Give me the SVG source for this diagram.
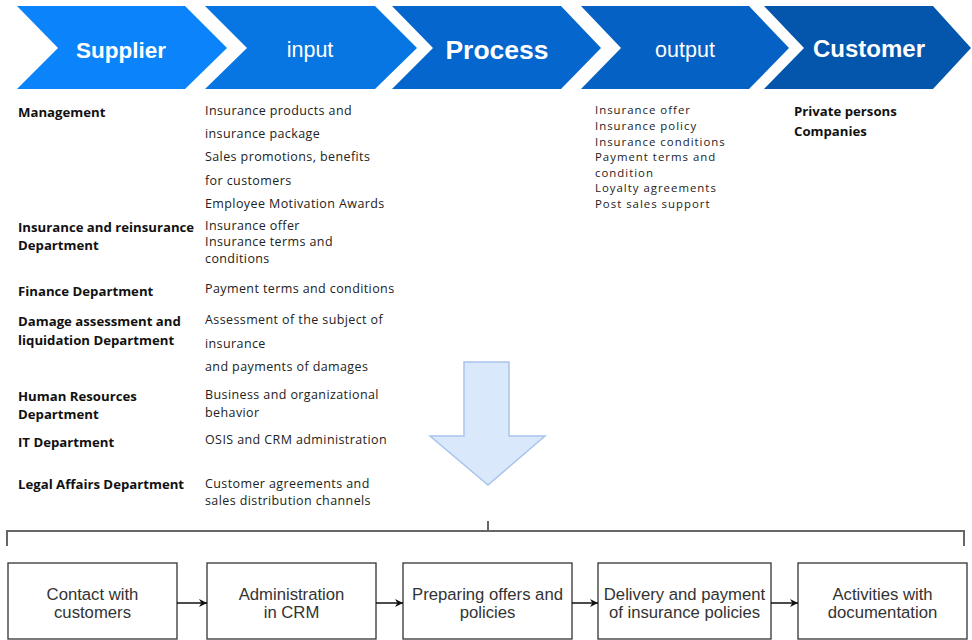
<svg xmlns="http://www.w3.org/2000/svg" width="972" height="640" viewBox="0 0 972 640">
<defs>
<style>
.chev-t{font-family:"Liberation Sans",Arial,sans-serif;fill:#ffffff;text-anchor:middle}
.b{font-family:"Open Sans","Liberation Sans",sans-serif;font-weight:bold;font-size:13.2px;fill:#111}
.r{font-family:"Open Sans","Liberation Sans",sans-serif;font-size:12.5px;letter-spacing:0.4px;fill:#222}
.o{font-family:"Open Sans","Liberation Sans",sans-serif;font-size:11.4px;letter-spacing:1px;fill:#222}
.box{fill:#ffffff;stroke:#333;stroke-width:1.3}
.bt{font-family:"Liberation Sans",Arial,sans-serif;font-size:16.7px;fill:#333;text-anchor:middle}
.con{stroke:#111;stroke-width:1.5;fill:none}
.br{stroke:#666;stroke-width:2;fill:none}
</style>
<marker id="ah" viewBox="0 0 10 10" refX="10" refY="5" markerWidth="8" markerHeight="8" markerUnits="userSpaceOnUse" orient="auto">
<path d="M0,0 L10,5 L0,10 L3,5 Z" fill="#111"/>
</marker>
</defs>
<rect width="972" height="640" fill="#ffffff"/>

<g id="chevrons">
<g id="supplier">
<polygon points="17,6 185,6 227,48 185,89 17,89 58,48" fill="#0b83fa"/>
<text class="chev-t" x="121" y="58" font-size="22.5" font-weight="bold">Supplier</text>
</g>
<g id="input">
<polygon points="205,6 375,6 417,48 375,89 205,89 247,48" fill="#0876e2"/>
<text class="chev-t" x="310" y="57" font-size="21.5">input</text>
</g>
<g id="process">
<polygon points="392,6 561,6 601,48 561,89 392,89 433,48" fill="#0566cd"/>
<text class="chev-t" x="497" y="59" font-size="26.5" font-weight="bold">Process</text>
</g>
<g id="output">
<polygon points="581,6 749,6 789,48 749,89 581,89 621,48" fill="#0561c4"/>
<text class="chev-t" x="685" y="57" font-size="21.5">output</text>
</g>
<g id="customer">
<polygon points="764,6 933,6 971,48 933,89 764,89 804,48" fill="#0456ad"/>
<text class="chev-t" x="869" y="57" font-size="24" font-weight="bold">Customer</text>
</g>
</g>

<g id="suppliers">
<text class="b" x="18" y="117">Management</text>
<text class="b" x="18" y="232">Insurance and reinsurance</text>
<text class="b" x="18" y="250">Department</text>
<text class="b" x="18" y="296">Finance Department</text>
<text class="b" x="18" y="326">Damage assessment and</text>
<text class="b" x="18" y="345">liquidation Department</text>
<text class="b" x="18" y="401">Human Resources</text>
<text class="b" x="18" y="419">Department</text>
<text class="b" x="18" y="447">IT Department</text>
<text class="b" x="18" y="489">Legal Affairs Department</text>
</g>

<g id="inputs">
<text class="r" x="205" y="115">Insurance products and</text>
<text class="r" x="205" y="138">insurance package</text>
<text class="r" x="205" y="161">Sales promotions, benefits</text>
<text class="r" x="205" y="185">for customers</text>
<text class="r" x="205" y="208">Employee Motivation Awards</text>
<text class="r" x="205" y="230">Insurance offer</text>
<text class="r" x="205" y="246">Insurance terms and</text>
<text class="r" x="205" y="263">conditions</text>
<text class="r" x="205" y="293">Payment terms and conditions</text>
<text class="r" x="205" y="324">Assessment of the subject of</text>
<text class="r" x="205" y="348">insurance</text>
<text class="r" x="205" y="371">and payments of damages</text>
<text class="r" x="205" y="399">Business and organizational</text>
<text class="r" x="205" y="417">behavior</text>
<text class="r" x="205" y="444">OSIS and CRM administration</text>
<text class="r" x="205" y="488">Customer agreements and</text>
<text class="r" x="205" y="505">sales distribution channels</text>
</g>

<g id="outputs">
<text class="o" x="595" y="114">Insurance offer</text>
<text class="o" x="595" y="130">Insurance policy</text>
<text class="o" x="595" y="145.5">Insurance conditions</text>
<text class="o" x="595" y="161">Payment terms and</text>
<text class="o" x="595" y="176.5">condition</text>
<text class="o" x="595" y="192">Loyalty agreements</text>
<text class="o" x="595" y="208">Post sales support</text>
</g>

<g id="customers">
<text class="b" x="794" y="116">Private persons</text>
<text class="b" x="794" y="136">Companies</text>
</g>

<g id="big-arrow">
<polygon points="464,362 509,362 509,436 545,436 488,485 430,436 464,436" fill="#dae8fc" stroke="#a9c4eb" stroke-width="1.5"/>
</g>

<g id="bracket">
<path class="br" d="M7,546 L7,531 L964,531 L964,546"/>
<path class="br" d="M488,521 L488,531"/>
</g>

<g id="box1">
<rect class="box" x="8" y="563" width="169" height="76"/>
<text class="bt" x="92.5" y="600">Contact with</text>
<text class="bt" x="92.5" y="618">customers</text>
</g>
<g id="box2">
<rect class="box" x="207" y="563" width="169" height="76"/>
<text class="bt" x="291.5" y="600">Administration</text>
<text class="bt" x="291.5" y="618">in CRM</text>
</g>
<g id="box3">
<rect class="box" x="403" y="563" width="169" height="76"/>
<text class="bt" x="487.5" y="600">Preparing offers and</text>
<text class="bt" x="487.5" y="618">policies</text>
</g>
<g id="box4">
<rect class="box" x="598" y="563" width="173" height="76"/>
<text class="bt" x="684.5" y="600">Delivery and payment</text>
<text class="bt" x="684.5" y="618">of insurance policies</text>
</g>
<g id="box5">
<rect class="box" x="798" y="563" width="169" height="76"/>
<text class="bt" x="882.5" y="600">Activities with</text>
<text class="bt" x="882.5" y="618">documentation</text>
</g>

<g id="connectors">
<line class="con" x1="177" y1="603" x2="207" y2="603" marker-end="url(#ah)"/>
<line class="con" x1="376" y1="603" x2="403" y2="603" marker-end="url(#ah)"/>
<line class="con" x1="572" y1="603" x2="598" y2="603" marker-end="url(#ah)"/>
<line class="con" x1="771" y1="603" x2="798" y2="603" marker-end="url(#ah)"/>
</g>
</svg>
